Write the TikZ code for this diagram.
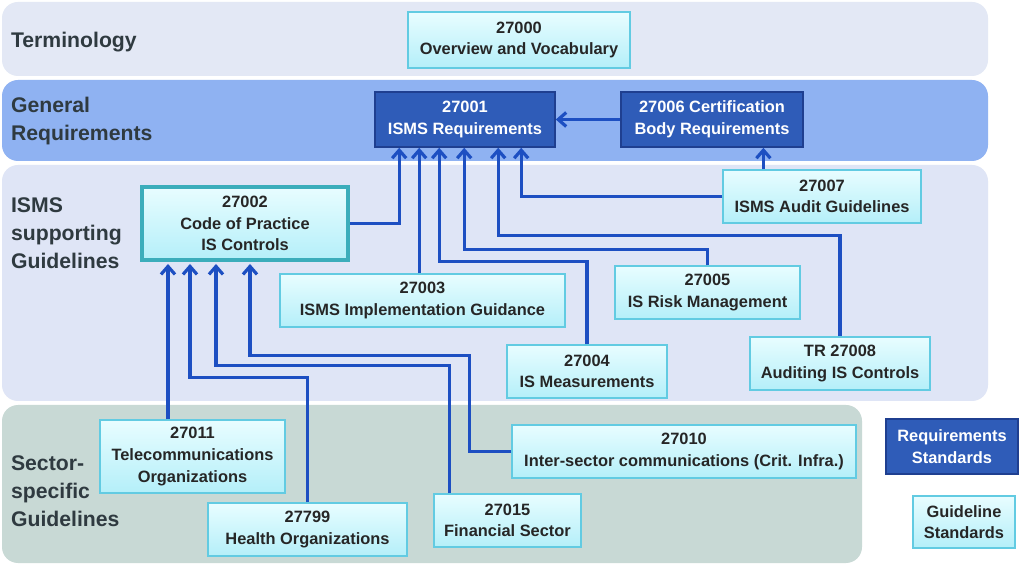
\documentclass[tikz,border=0pt]{standalone}
\usepackage{fontspec}
\setmainfont{Liberation Sans}
\usetikzlibrary{arrows.meta,calc}
\definecolor{bandA}{HTML}{E3E8F5}
\definecolor{bandB}{HTML}{8FB2F2}
\definecolor{bandC}{HTML}{DFE5F6}
\definecolor{bandD}{HTML}{C8D9D5}
\definecolor{cyanTop}{HTML}{E8FDFF}
\definecolor{cyanBot}{HTML}{B4EFF9}
\definecolor{cyanLine}{HTML}{62CBE2}
\definecolor{reqFill}{HTML}{2F5CB8}
\definecolor{reqLine}{HTML}{1F3F90}
\definecolor{linkBlue}{HTML}{1D4FC2}
\definecolor{titleGray}{HTML}{2F3A40}
\begin{document}
\begin{tikzpicture}[x=0.5pt,y=-0.5pt,
    band/.style={rounded corners=8pt},
    title/.style={anchor=west, align=left, font=\fontsize{10.6}{14}\selectfont\bfseries, text=titleGray},
    guide/.style={draw=cyanLine, line width=0.6pt, top color=cyanTop, bottom color=cyanBot, align=center,
      font=\fontsize{8.2}{10.8}\selectfont\bfseries, text=black!85, inner sep=0pt},
    req/.style={draw=reqLine, line width=0.8pt, fill=reqFill, align=center, text=white,
      font=\fontsize{8.2}{10.8}\selectfont\bfseries, inner sep=0pt},
    link/.style={draw=linkBlue, line width=1.6pt, -{Straight Barb[length=4pt,width=7pt]}}]
  \useasboundingbox (0,0) rectangle (1023,566);
  \fill[white] (0,0) rectangle (1023,566);
  % bands
  \fill[band, bandA] (2,2) rectangle (988,76);
  \fill[band, bandB] (2,80) rectangle (988,161);
  \fill[band, bandC] (2,165) rectangle (988,401);
  \fill[band, bandD] (2,405) rectangle (862,563);
  \node[title] (tTerm) at (4,42) {Terminology};
  \node[title] (tGen) at (4,121) {General\\Requirements};
  \node[title] (tIsms) at (4,233) {ISMS\\supporting\\Guidelines};
  \node[title] (tSect) at (4,491) {Sector-\\specific\\Guidelines};
  % standards
  \node[guide, minimum width=111pt, minimum height=28pt] (v0) at (519,40) {27000\\Overview and Vocabulary};
  \node[req, minimum width=90pt, minimum height=27.5pt] (r1) at (465,119.5) {27001\\ISMS Requirements};
  \node[req, minimum width=91pt, minimum height=27.5pt] (c6) at (712,119.5) {27006 Certification\\Body Requirements};
  \node[guide, minimum width=99pt, minimum height=26.5pt] (i7) at (822,196.5) {27007\\ISMS Audit Guidelines};
  \node[guide, draw=cyanLine!60!teal, line width=2pt, minimum width=103pt, minimum height=36.5pt] (s2) at (245,223.5) {27002\\Code of Practice\\IS Controls};
  \node[guide, minimum width=142.5pt, minimum height=26.5pt] (i3) at (422.5,300.5) {27003\\ISMS Implementation Guidance};
  \node[guide, minimum width=92.5pt, minimum height=26.5pt] (i5) at (707.5,292.5) {27005\\IS Risk Management};
  \node[guide, minimum width=80pt, minimum height=26.5pt] (i4) at (587,371.5) {27004\\IS Measurements};
  \node[guide, minimum width=90pt, minimum height=26.5pt] (i8) at (840,363.5) {TR 27008\\Auditing IS Controls};
  \node[guide, minimum width=92.5pt, minimum height=36.5pt] (s11) at (192.5,456.5) {27011\\Telecommunications\\Organizations};
  \node[guide, minimum width=172pt, minimum height=26.5pt] (s10) at (684,451.5) {27010\\Inter-sector communications (Crit. Infra.)};
  \node[guide, minimum width=99.5pt, minimum height=26.5pt] (s799) at (307.5,529.5) {27799\\Health Organizations};
  \node[guide, minimum width=73.5pt, minimum height=26.5pt] (s15) at (507.5,520.5) {27015\\Financial Sector};
  % legend
  \node[req, minimum width=66pt, minimum height=27.5pt] (lReq) at (952,446.5) {Requirements\\Standards};
  \node[guide, minimum width=51pt, minimum height=26pt] (lGui) at (964,522) {Guideline\\Standards};
  % entry points
  \coordinate (in2) at ([xshift=12.5pt]r1.south west);
  \coordinate (in3) at ([xshift=22.5pt]r1.south west);
  \coordinate (in4) at ([xshift=32.5pt]r1.south west);
  \coordinate (in5) at ([xshift=45pt]r1.south west);
  \coordinate (in8) at ([xshift=62pt]r1.south west);
  \coordinate (in7) at ([xshift=73.5pt]r1.south west);
  \coordinate (up7) at ([xshift=20.5pt]i7.north west);
  \coordinate (o1) at ([xshift=14pt,yshift=-1pt]s2.south west);
  \coordinate (o2) at ([xshift=25pt,yshift=-1pt]s2.south west);
  \coordinate (o3) at ([xshift=38pt,yshift=-1pt]s2.south west);
  \coordinate (o4) at ([xshift=55pt,yshift=-1pt]s2.south west);
  % connectors
  \draw[link] (c6.west) -- (r1.east);
  \draw[link] (up7) -- (up7 |- c6.south);
  \draw[link] (i7.west) -| (in7);
  \draw[link] (s2.east) -| (in2);
  \draw[link] (in3 |- i3.north) -- (in3);
  \draw[link] (i4.north) -- ++(0,-83) -| (in4);
  \draw[link] (i5.north) -- ++(0,-16) -| (in5);
  \draw[link] (i8.north) -- ++(0,-101) -| (in8);
  \draw[link] (o1 |- s11.north) -- (o1);
  \draw[link] (s799.north) -- ++(0,-125) -| (o2);
  \draw[link] ([xshift=8pt]s15.north west) -- ++(0,-128) -| (o3);
  \draw[link] (s10.west) -| ++(-42,-96) -| (o4);
\end{tikzpicture}
\end{document}
